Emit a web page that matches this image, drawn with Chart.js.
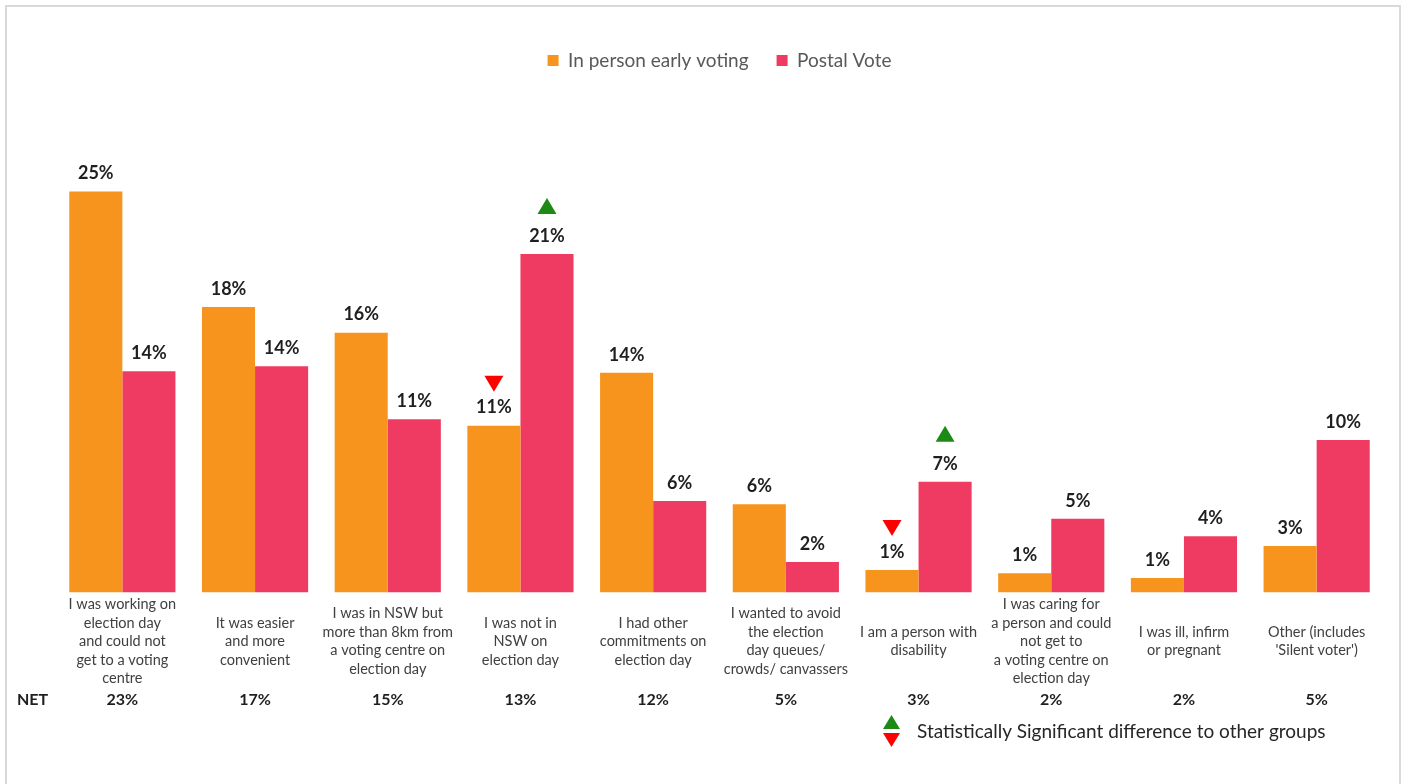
<!DOCTYPE html>
<html><head><meta charset="utf-8">
<script src="https://cdn.jsdelivr.net/npm/chart.js@4"></script>
<style>html,body{margin:0;padding:0;background:#fff;overflow:hidden}#wrap{width:1405px;height:784px;position:relative}</style>
</head><body><div id="wrap"><canvas id="c"></canvas></div>
<script>
const categories = [
  ["I was working on","election day","and could not","get to a voting","centre"],
  ["It was easier","and more","convenient"],
  ["I was in NSW but","more than 8km from","a voting centre on","election day"],
  ["I was not in","NSW on","election day"],
  ["I had other","commitments on","election day"],
  ["I wanted to avoid","the election","day queues/","crowds/ canvassers"],
  ["I am a person with","disability"],
  ["I was caring for","a person and could","not get to","a voting centre on","election day"],
  ["I was ill, infirm","or pregnant"],
  ["Other (includes","'Silent voter')"]
];
const seriesNames = ["In person early voting", "Postal Vote"];
const earlyVoting = [25.0, 17.8, 16.2, 10.4, 13.7, 5.5, 1.4, 1.2, 0.9, 2.9];
const postalVote  = [13.8, 14.1, 10.8, 21.1, 5.7, 1.9, 6.9, 4.6, 3.5, 9.5];
const earlyLabels  = ["25%","18%","16%","11%","14%","6%","1%","1%","1%","3%"];
const postalLabels = ["14%","14%","11%","21%","6%","2%","7%","5%","4%","10%"];
const netLabel = "NET";
const netValues = ["23%","17%","15%","13%","12%","5%","3%","2%","2%","5%"];
const earlySig  = [0,0,0,-1,0,0,-1,0,0,0];
const postalSig = [0,0,0,1,0,0,1,0,0,0];
const footnote = "Statistically Significant difference to other groups";

const ORANGE = '#F7941D', PINK = '#EF3B61', GREEN = '#1E8A16', RED = '#FF0000';
const FONT = 'Lato, "Open Sans", sans-serif';

function tri(ctx, cx, top, w, h, up, color) {
  ctx.save();
  ctx.fillStyle = color;
  ctx.beginPath();
  if (up) { ctx.moveTo(cx, top); ctx.lineTo(cx + w/2, top + h); ctx.lineTo(cx - w/2, top + h); }
  else { ctx.moveTo(cx - w/2, top); ctx.lineTo(cx + w/2, top); ctx.lineTo(cx, top + h); }
  ctx.closePath(); ctx.fill(); ctx.restore();
}

const extras = {
  id: 'extras',
  beforeDraw(chart) {
    const ctx = chart.ctx;
    ctx.save();
    ctx.strokeStyle = '#D9D9D9'; ctx.lineWidth = 2;
    ctx.beginPath();
    ctx.moveTo(6, 784); ctx.lineTo(6, 6); ctx.lineTo(1400, 6); ctx.lineTo(1400, 784);
    ctx.stroke();
    ctx.restore();
  },
  afterDatasetsDraw(chart) {
    const ctx = chart.ctx;
    const labelSets = [earlyLabels, postalLabels];
    const sigSets = [earlySig, postalSig];
    ctx.save();
    ctx.font = 'bold 18px ' + FONT;
    ctx.fillStyle = '#1F1F1F';
    ctx.textAlign = 'center';
    ctx.textBaseline = 'middle';
    chart.data.datasets.forEach((ds, di) => {
      const meta = chart.getDatasetMeta(di);
      meta.data.forEach((bar, i) => {
        ctx.fillText(labelSets[di][i], bar.x, bar.y - 18);
        const s = sigSets[di][i];
        if (s > 0) tri(ctx, bar.x, bar.y - 56, 19, 16, true, GREEN);
        if (s < 0) tri(ctx, bar.x, bar.y - 50, 19, 16, false, RED);
      });
    });
    // NET row
    const xs = chart.scales.x;
    ctx.font = 'bold 16px ' + FONT;
    ctx.fillStyle = '#1F1F1F';
    ctx.textAlign = 'left';
    ctx.fillText(netLabel, 17, 700);
    ctx.textAlign = 'center';
    netValues.forEach((v, i) => ctx.fillText(v, xs.getPixelForValue(i), 700));
    // footnote
    tri(ctx, 891.5, 715, 17, 14, true, GREEN);
    tri(ctx, 891.5, 733, 17, 14, false, RED);
    ctx.font = '19px ' + FONT;
    ctx.fillStyle = '#262626';
    ctx.textAlign = 'left';
    ctx.fillText(footnote, 917, 732);
    ctx.restore();
  }
};

new Chart(document.getElementById('c'), {
  type: 'bar',
  data: {
    labels: categories,
    datasets: [
      { label: seriesNames[0], data: earlyVoting, backgroundColor: ORANGE, borderWidth: 0 },
      { label: seriesNames[1], data: postalVote, backgroundColor: PINK, borderWidth: 0 }
    ]
  },
  options: {
    responsive: true,
    maintainAspectRatio: false,
    animation: false,
    datasets: { bar: { categoryPercentage: 0.8, barPercentage: 1.0 } },
    layout: { padding: { left: 56, right: 22, top: 23, bottom: 75 } },
    plugins: {
      legend: {
        position: 'top',
        labels: {
          boxWidth: 11, boxHeight: 11, padding: 28,
          color: '#595959',
          font: { family: FONT, size: 19 }
        }
      },
      tooltip: { enabled: false }
    },
    scales: {
      x: {
        grid: { display: false, drawTicks: false, tickLength: 0 },
        border: { display: false },
        ticks: {
          color: '#404040', padding: 12, crossAlign: 'center', maxRotation: 0, autoSkip: false,
          font: { family: FONT, size: 14.5, lineHeight: 1.276 }
        }
      },
      y: {
        display: false,
        min: 0, max: 31.95,
        grid: { display: false }
      }
    }
  },
  plugins: [extras]
});
</script>
</body></html>
